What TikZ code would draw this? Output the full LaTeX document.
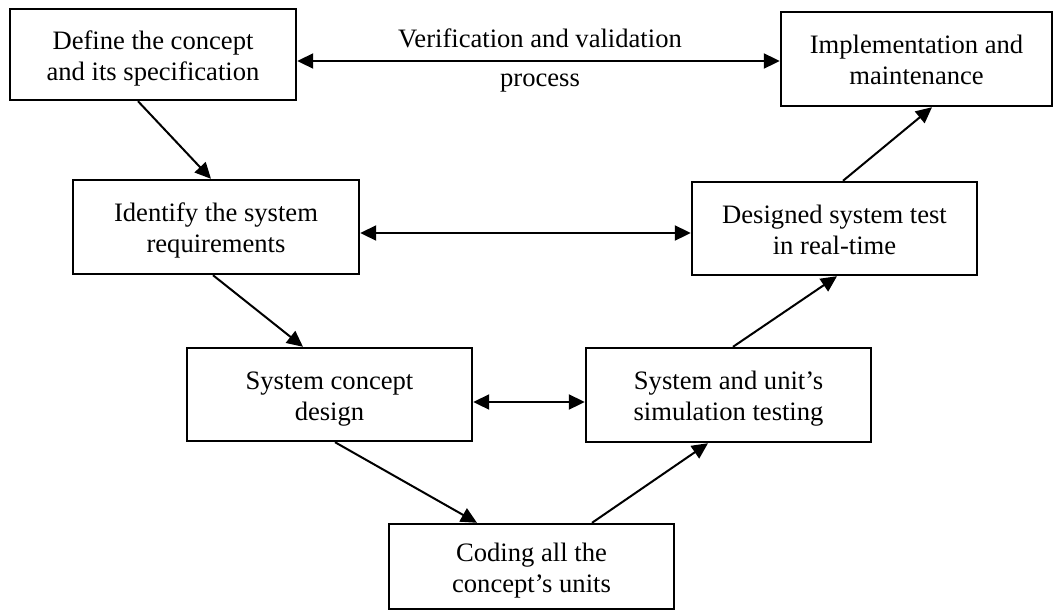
\documentclass[tikz,border=0pt]{standalone}
\usepackage{fontspec}
\setmainfont{Liberation Serif}
\usepackage{tikz}
\usetikzlibrary{positioning}
\usetikzlibrary{arrows.meta}
\tikzstyle{stage} = [draw, line width=1.2pt, align=center, inner sep=0pt, minimum width=142.5pt, minimum height=46.5pt, font=\fontsize{13.3}{15.5}\selectfont]
\tikzstyle{caption} = [inner sep=0pt, font=\fontsize{13.3}{15.5}\selectfont]
\tikzstyle{arrow} = [line width=1pt,-{Triangle[length=8pt,width=7.5pt]}]
\tikzstyle{biarrow} = [line width=1pt,{Triangle[length=8pt,width=7.5pt]}-{Triangle[length=8pt,width=7.5pt]}]
\newcommand{\twoline}[2]{\rule{0pt}{13.5pt}#1\\#2\rule[-3.5pt]{0pt}{3.5pt}}

\begin{document}
\begin{tikzpicture}[x=0.5pt,y=-0.5pt]
	\useasboundingbox (0,0) rectangle (1053,611);
	
	%Nodes
	\node [stage, minimum width=143pt, minimum height=45.5pt] (define) at (153,54.5) {\twoline{Define the concept}{and its specification}};
	\node [stage, minimum width=135.5pt, minimum height=47pt] (implement) at (916.5,59) {\twoline{Implementation and}{maintenance}};
	\node [stage, minimum width=143pt, minimum height=47pt] (identify) at (216,227) {\twoline{Identify the system}{requirements}};
	\node [stage] (realtime) at (834.5,228.5) {\twoline{Designed system test}{in real-time}};
	\node [stage] (concept) at (329.5,394.5) {\twoline{System concept}{design}};
	\node [stage, minimum height=47pt] (simulation) at (728.5,395) {\twoline{System and unit's}{simulation testing}};
	\node [stage, minimum height=42.5pt] (coding) at (531.5,566.5) {\twoline{Coding all the}{concept's units}};
	
	\node [caption] (verif) at (540,38) {Verification and validation};
	\node [caption] (process) at (540,83) {process};
	
	%Coordinates
	\coordinate (vtop) at ([yshift=-3.25pt]define.east);
	\coordinate (vmid) at ([yshift=-3pt]identify.east);
	\coordinate (vlow) at ([yshift=-3.75pt]concept.east);
	
	%Lines
	\draw[arrow] ([xshift=-7.5pt]define.south) -- ([xshift=-2.5pt]identify.north);
	\draw[arrow] ([xshift=-1.5pt]identify.south) -- ([xshift=-13.25pt]concept.north);
	\draw[arrow] ([xshift=2.75pt]concept.south) -- ([xshift=-27.25pt]coding.north);
	\draw[arrow] ([xshift=30.25pt]coding.north) -- ([xshift=-10.25pt]simulation.south);
	\draw[arrow] ([xshift=2.25pt]simulation.north) -- ([xshift=1.25pt]realtime.south);
	\draw[arrow] ([xshift=4.25pt]realtime.north) -- ([xshift=7.75pt]implement.south);
	
	\draw[biarrow] (vtop) -- (vtop -| implement.west);
	\draw[biarrow] (vmid) -- (vmid -| realtime.west);
	\draw[biarrow] (vlow) -- (vlow -| simulation.west);
	
\end{tikzpicture}
\end{document}
